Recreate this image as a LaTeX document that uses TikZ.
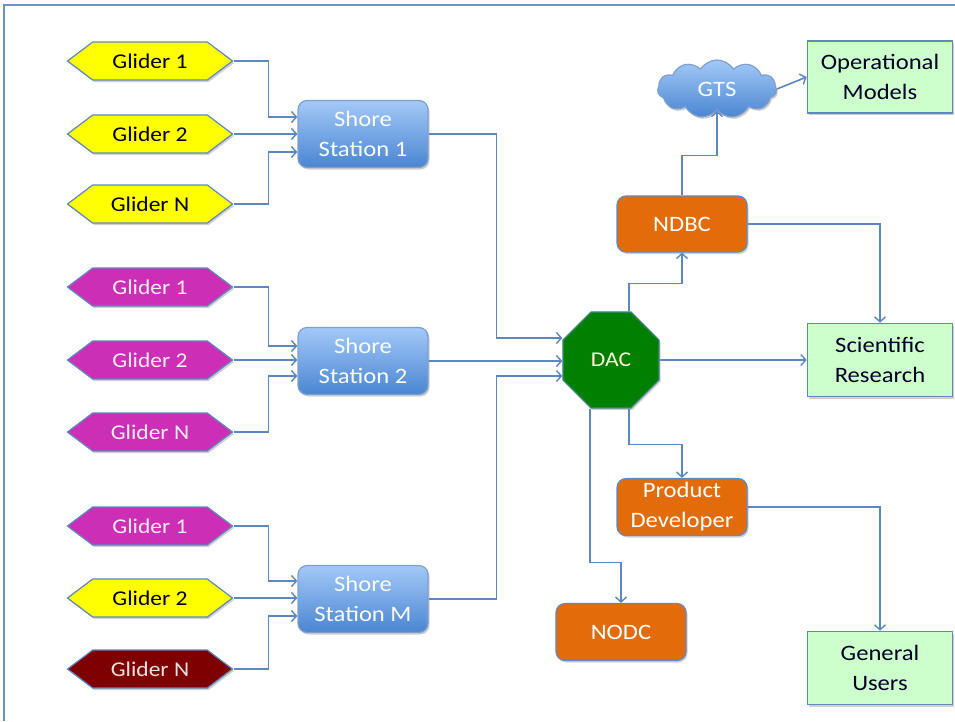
\documentclass[tikz,border=0pt]{standalone}
\usepackage{fontspec}
\setmainfont{Carlito}[FakeStretch=1.12]
\usetikzlibrary{shapes.geometric,shapes.symbols,arrows.meta,calc,shadows}
\definecolor{conn}{HTML}{5B87C2}
\definecolor{frame}{HTML}{6C93C9}
\definecolor{bord}{HTML}{5F88C0}
\definecolor{gyellow}{HTML}{FFFF00}
\definecolor{gmag}{HTML}{CD2EB6}
\definecolor{gred}{HTML}{7F0000}
\definecolor{stop}{HTML}{A3C8F8}
\definecolor{sbot}{HTML}{4A86D2}
\definecolor{orng}{HTML}{E36C0A}
\definecolor{lgreen}{HTML}{CCFFCC}
\definecolor{dacg}{HTML}{007F00}
\tikzset{
  txt/.style={font=\fontsize{22}{30}\selectfont},
  gtxt/.style={font=\fontsize{21}{27}\selectfont},
  shade/.style={drop shadow={shadow xshift=1.5pt,shadow yshift=-2pt,opacity=.3,fill=black!60}},
  glider/.style={gtxt,signal,signal to=west and east,signal pointer angle=74,
    minimum width=165pt,minimum height=38pt,inner sep=0pt,draw=bord,line width=1.2pt,shade},
  gy/.style={glider,fill=gyellow,text=black},
  gm/.style={glider,fill=gmag,text=white!92!gmag},
  gr/.style={glider,fill=gred,text=white!88!gred},
  station/.style={txt,rectangle,rounded corners=9pt,minimum width=130pt,minimum height=67pt,
    align=center,inner sep=0pt,top color=stop,bottom color=sbot,draw=bord!80,line width=1.2pt,
    text=white!94!stop,shade},
  obox/.style={txt,rectangle,rounded corners=9pt,minimum width=130pt,minimum height=57pt,
    align=center,inner sep=0pt,fill=orng,draw=bord,line width=1.2pt,text=white,shade},
  gbox/.style={txt,rectangle,minimum width=145pt,minimum height=72pt,align=center,inner sep=0pt,
    fill=lgreen,draw=bord,line width=1.6pt,text=black!85!blue,shade},
  conn/.style={draw=conn,line width=1.6pt,-{Straight Barb[length=5pt,width=11pt,line width=1.4pt]}},
}
\begin{document}
\begin{tikzpicture}[x=1pt,y=-1pt]
\useasboundingbox (0,0) rectangle (955,721);
\fill[white] (0,0) rectangle (955,721);
\draw[frame,line width=2pt] (4,721) -- (4,5) -- (955,5);

% gliders group 1
\node[gy] (g11) at (150,61) {Glider 1};
\node[gy] (g12) at (150,134) {Glider 2};
\node[gy] (g1n) at (150,204) {Glider N};
% group 2
\node[gm] (g21) at (150,287) {Glider 1};
\node[gm] (g22) at (150,360) {Glider 2};
\node[gm] (g2n) at (150,432) {Glider N};
% group 3
\node[gm] (g31) at (150,526) {Glider 1};
\node[gy] (g32) at (150,598) {Glider 2};
\node[gr] (g3n) at (150,669) {Glider N};

% shore stations
\node[station] (s1) at (363,134) {Shore\\Station 1};
\node[station] (s2) at (363,361) {Shore\\Station 2};
\node[station] (sm) at (363,599) {Shore\\Station M};

% DAC
\node[gtxt,regular polygon,regular polygon sides=8,minimum size=104pt,
  inner sep=0pt,fill=dacg,draw=bord!70!dacg,line width=1.2pt,text=white!85!yellow,shade] (dac) at (611,360) {DAC};

% right side
\node[obox,minimum height=56pt] (ndbc) at (682,224) {NDBC};
\node[txt,cloud,cloud puffs=11,cloud puff arc=115,aspect=2.1,minimum width=119pt,minimum height=58pt,
  inner sep=0pt,top color=stop,bottom color=sbot,draw=bord!80,line width=1.2pt,text=white!94!stop,shade] (gts) at (717,89) {GTS};
\node[gbox] (om) at (880,77) {Operational\\Models};
\node[gbox,minimum height=73pt] (sr) at (880,360) {Scientific\\Research};
\node[obox] (pd) at (682,507) {Product\\Developer};
\node[obox] (nodc) at (621,632) {NODC};
\node[gbox,minimum height=73pt] (gu) at (880,668) {General\\Users};

% glider -> station
\draw[conn] (g11.east) -- ++(35,0) |- ($(s1.west)+(0,-17)$);
\draw[conn] (g12.east) -- (s1.west);
\draw[conn] (g1n.east) -- ++(35,0) |- ($(s1.west)+(0,18)$);
\draw[conn] (g21.east) -- ++(35,0) |- ($(s2.west)+(0,-15)$);
\draw[conn] (g22.east) -- ($(s2.west)+(0,-1)$);
\draw[conn] (g2n.east) -- ++(35,0) |- ($(s2.west)+(0,15)$);
\draw[conn] (g31.east) -- ++(35,0) |- ($(sm.west)+(0,-18)$);
\draw[conn] (g32.east) -- ($(sm.west)+(0,-1)$);
\draw[conn] (g3n.east) -- ++(35,0) |- ($(sm.west)+(0,17)$);

% station -> DAC
\draw[conn] (s1.east) -- ++(68,0) |- ($(dac.west)+(0,-22)$);
\draw[conn] (s2.east) -- ($(dac.west)+(0,1)$);
\draw[conn] (sm.east) -- ++(68,0) |- ($(dac.west)+(0,16)$);

% DAC outputs
\draw[conn] ($(dac.north)+(18,0)$) -- ++(0,-28) -| (ndbc.south);
\draw[conn] (ndbc.north) -- ++(0,-40) -| (gts.south);
\draw[conn] (gts.east) -- (om.west);
\draw[conn] (ndbc.east) -| (sr.north);
\draw[conn] (dac.east) -- (sr.west);
\draw[conn] ($(dac.south)+(18,0)$) -- ++(0,36) -| (pd.north);
\draw[conn] ($(dac.south)+(-21,0)$) -- ++(0,154) -| (nodc.north);
\draw[conn] (pd.east) -| (gu.north);
\end{tikzpicture}
\end{document}
